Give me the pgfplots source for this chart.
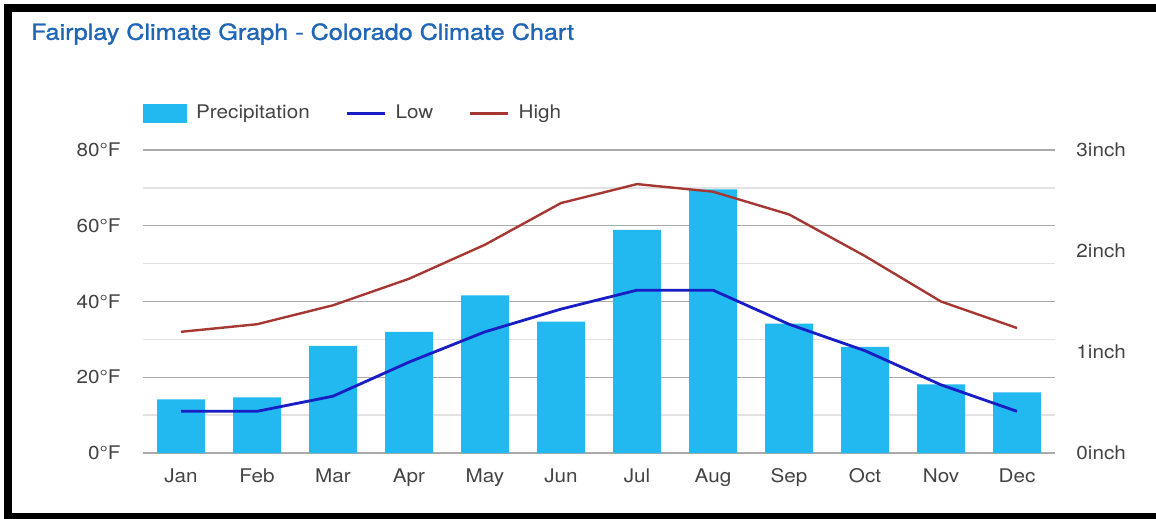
\documentclass[border=0pt]{standalone}
\usepackage{fontspec}
\setmainfont{TeX Gyre Heros}[FakeStretch=1.1]
\newfontfamily\titlefont{TeX Gyre Heros}[FakeStretch=1.14, FakeBold=1.3]
\usepackage{pgfplots}
\pgfplotsset{compat=1.18}
\usepackage{pgfplotstable}

\definecolor{precip}{RGB}{34,184,240}
\definecolor{lowline}{RGB}{24,30,196}
\definecolor{highline}{RGB}{166,56,52}
\definecolor{titleblue}{RGB}{32,102,182}
\definecolor{labelgray}{RGB}{68,68,68}
\definecolor{gridmajor}{RGB}{170,170,170}
\definecolor{gridminor}{RGB}{226,226,226}
\definecolor{baseline}{RGB}{110,110,110}

% month index, precipitation (inch), low (F), high (F)
\pgfplotstableread{
m p    lo hi
0 0.53 11 32
1 0.55 11 34
2 1.06 15 39
3 1.20 24 46
4 1.56 32 55
5 1.30 38 66
6 2.21 43 71
7 2.61 43 69
8 1.28 34 63
9 1.05 27 52
10 0.68 18 40
11 0.60 11 33
}\climate

\pgfplotsset{
  base/.style={
    scale only axis, width=456pt, height=151.5pt,
    at={(71.5pt,-226.5pt)}, anchor=south west,
    xmin=-0.5, xmax=11.5,
    major tick length=0pt, minor tick length=0pt,
    axis line style={draw=none},
    tick label style={font=\fontsize{9.4}{11}\selectfont, text=labelgray, inner sep=0pt},
  },
  shortline/.style={legend image code/.code={\draw[##1] (0pt,0pt) -- (19pt,0pt);}},
  boxlegend/.style={legend image code/.code={\fill[precip] (0pt,-4.5pt) rectangle (21.5pt,4.5pt);}},
}

\begin{document}
\begin{tikzpicture}
\fill[white] (0,0) rectangle (578pt,-259.5pt);
\fill[black] (2pt,-2pt) rectangle (578pt,-259.5pt);
\fill[white] (6pt,-6pt) rectangle (578pt,-256.5pt);
\node[anchor=base west, inner sep=0pt, font=\titlefont\fontsize{11.05}{13}\selectfont, text=titleblue]
  at (15.3pt,-19.9pt) {Fairplay Climate Graph - Colorado Climate Chart};

% temperature scale: grid, left labels, month names
\begin{axis}[base,
  ymin=0, ymax=80,
  ytick={0,20,40,60,80},
  yticklabels={0°F,20°F,40°F,60°F,80°F},
  minor ytick={10,30,50,70},
  ymajorgrids, yminorgrids,
  major grid style={gridmajor, line width=0.65pt},
  minor grid style={gridminor, line width=0.65pt},
  extra y ticks={0}, extra y tick labels={},
  extra y tick style={grid style={baseline, line width=0.8pt}},
  yticklabel style={anchor=east, xshift=-11pt},
  xtick={0,...,11},
  xticklabels={Jan,Feb,Mar,Apr,May,Jun,Jul,Aug,Sep,Oct,Nov,Dec},
  xticklabel style={anchor=north, yshift=-7.5pt},
]
\addplot[draw=none] coordinates {(0,0)};
\end{axis}

% precipitation bars on the right scale
\begin{axis}[base,
  ymin=0, ymax=3,
  ytick={0,1,2,3},
  yticklabels={0inch,1inch,2inch,3inch},
  yticklabel pos=right,
  yticklabel style={anchor=west, xshift=10.5pt},
  xtick=\empty,
]
\addplot[ybar, bar width=24pt, fill=precip, draw=none] table[x=m, y=p] {\climate};
\end{axis}

% low and high temperature lines with legend
\begin{axis}[base,
  ymin=0, ymax=80,
  hide axis,
  legend columns=3,
  legend style={at={(axis description cs:0,1.121)}, anchor=west,
    draw=none, fill=none, inner sep=0pt,
    font=\fontsize{9.4}{11}\selectfont, text=labelgray,
    nodes={inner sep=0pt},
    /tikz/every odd column/.append style={column sep=4.5pt},
    /tikz/every even column/.append style={column sep=18pt}},
]
\addlegendimage{boxlegend}
\addlegendentry{Precipitation}
\addplot[lowline, line width=1.4pt, line join=round, shortline]
  table[x=m, y=lo] {\climate};
\addlegendentry{Low}
\addplot[highline, line width=1.2pt, line join=round, shortline]
  table[x=m, y=hi] {\climate};
\addlegendentry{High}
\end{axis}

\pgfresetboundingbox
\useasboundingbox (0,0) rectangle (578pt,-259.5pt);
\end{tikzpicture}
\end{document}
